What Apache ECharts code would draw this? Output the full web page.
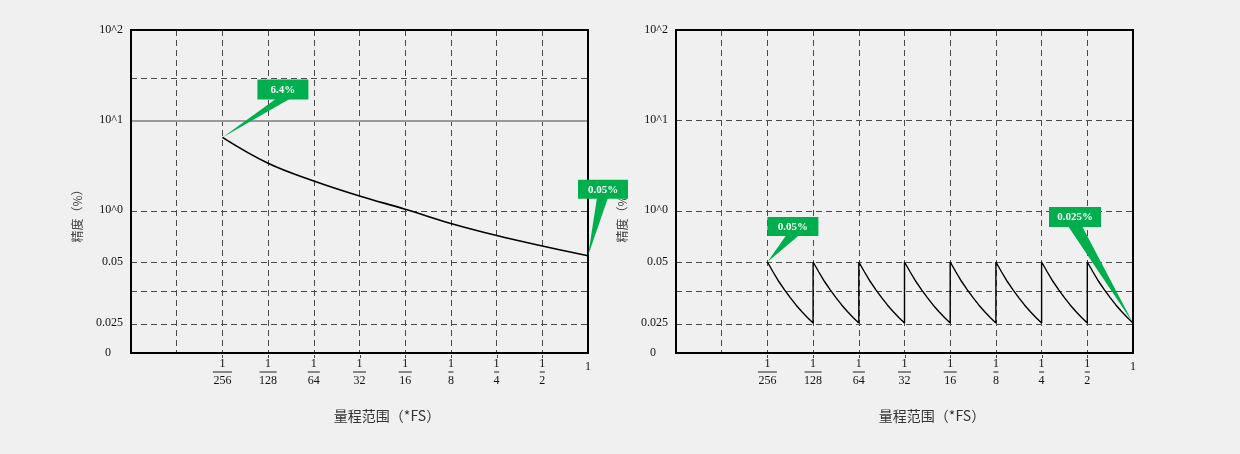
<!DOCTYPE html>
<html><head><meta charset="utf-8">
<script src="https://cdn.jsdelivr.net/npm/echarts@6/dist/echarts.min.js"></script>
<style>html,body{margin:0;padding:0;background:#f0f0f0}#c{width:1240px;height:454px}</style>
</head><body><div id="c"></div>
<script>
// ---------------- data ----------------
const RANGE_TICKS = [1/256, 1/128, 1/64, 1/32, 1/16, 1/8, 1/4, 1/2, 1];
const GRID_X = [1/1024, 1/512, 1/256, 1/128, 1/64, 1/32, 1/16, 1/8, 1/4, 1/2, 1];
const Y_TICK_VALUES = [0, 0.025, 0.05, 1, 10, 100];
const Y_TICK_LABELS = ['0', '0.025', '0.05', '10^0', '10^1', '10^2'];
// left chart: single-range instrument
const LEFT_RANGE = [1/256, 1/128, 1/64, 1/32, 1/16, 1/8, 1/4, 1/2, 1];
const LEFT_ACC = [6.4, 3.3, 2.1, 1.43, 1.02, 0.46, 0.23, 0.126, 0.072];
// right chart: auto-ranging, one saw-tooth per octave
const SEG_STARTS = [1/256, 1/128, 1/64, 1/32, 1/16, 1/8, 1/4, 1/2];
const SEG_FRAC = [0, 0.125, 0.25, 0.375, 0.5, 0.625, 0.75, 0.875, 1];
const SEG_ACC = [0.05, 0.0459, 0.042, 0.0386, 0.0354, 0.0324, 0.0297, 0.0273, 0.025];
// horizontal reference lines
const LEFT_HLINES = [0.025, 0.0375, 0.05, 1, 10, 28];
const RIGHT_HLINES = [0.025, 0.0375, 0.05, 1, 10];
const CALLOUT_TEXT = ['6.4%', '0.05%', '0.05%', '0.025%'];
const CALLOUT_X = [1/256, 1, 1/256, 1];
const CALLOUT_Y = [6.4, 0.072, 0.05, 0.025];
const CALLOUT_GRID = [0, 0, 1, 1];
const X_NAME = '量程范围（*FS）';
const Y_NAME = '精度（%）';

// ---------------- y scale (piecewise) ----------------
const BREAK_V = [0, 0.025, 0.05, 1, 10, 100];
const BREAK_P = [0, 30, 91, 143, 233, 323].map(p => p / 323);
const LOG_SEG = [false, false, true, true, true];
function yPos(v) {
  for (let i = 0; i < BREAK_V.length - 1; i++) {
    const a = BREAK_V[i], b = BREAK_V[i + 1];
    if (v <= b || i === BREAK_V.length - 2) {
      const t = LOG_SEG[i] ? Math.log(v / a) / Math.log(b / a) : (v - a) / (b - a);
      return BREAK_P[i] + t * (BREAK_P[i + 1] - BREAK_P[i]);
    }
  }
}

// ---------------- layout / style ----------------
const GRIDS = [{left: 131, top: 30, width: 457, height: 323}, {left: 676, top: 30, width: 457, height: 323}];
const GREEN = '#00ae4d';
const SERIF = '"Liberation Serif","Times New Roman",serif';
const CALLOUT_GEOM = [
  {box: [35, -58, 51, 20], base: [54, 68]},
  {box: [-10, -76, 50, 19], base: [9, 20]},
  {box: [0, -45, 51, 19], base: [19, 32]},
  {box: [-84, -116, 52, 20], base: [-65, -51]}
];
const HR_W = {256: 19, 128: 17, 64: 12, 32: 13, 16: 13, 8: 5, 4: 5, 2: 5};

const rich = {
  n: {fontFamily: SERIF, fontSize: 12, lineHeight: 13, color: '#111', align: 'center'},
  d: {fontFamily: SERIF, fontSize: 12, lineHeight: 13, color: '#111', align: 'center'},
  one: {fontFamily: SERIF, fontSize: 12, lineHeight: 13, color: '#111', padding: [7, 0, 0, 0]}
};
Object.keys(HR_W).forEach(k => {
  rich['hr' + k] = {width: HR_W[k], height: 0, lineHeight: 4, borderColor: '#222', borderWidth: 0.6, align: 'center'};
});

function xLabel(v) {
  const den = Math.round(1 / v);
  if (den > 256) return '';
  if (den === 1) return '{one|1}';
  return '{n|1}\n{hr' + den + '|}\n{d|' + den + '}';
}

const dash = {type: [6, 4], color: '#4a4a4a', width: 1};

function hLines(vals, solidAt) {
  return vals.map(v => ({
    yAxis: yPos(v),
    lineStyle: v === solidAt ? {type: 'solid', color: '#9a9a9a', width: 2} : dash
  }));
}

const leftData = LEFT_RANGE.map((r, i) => [r, yPos(LEFT_ACC[i])]);
const rightData = [];
SEG_STARTS.forEach(s => {
  SEG_FRAC.forEach((f, i) => rightData.push([s * Math.pow(2, f), yPos(SEG_ACC[i])]));
});

const xAxes = GRIDS.map((g, i) => ({
  type: 'log', logBase: 2, gridIndex: i, min: 1/1024, max: 1,
  axisLine: {show: false},
  splitLine: {show: true, showMinLine: false, showMaxLine: false, lineStyle: dash},
  axisTick: {show: false, customValues: GRID_X},
  axisLabel: {customValues: RANGE_TICKS, formatter: xLabel, rich: rich, margin: 4, showMinLabel: true, showMaxLabel: true, hideOverlap: false}
}));
const yAxes = GRIDS.map((g, i) => ({
  type: 'value', gridIndex: i, min: 0, max: 1,
  axisLine: {show: false}, axisTick: {show: false}, splitLine: {show: false},
  axisLabel: {
    customValues: Y_TICK_VALUES.map(yPos), margin: 8, fontFamily: SERIF, fontSize: 12, color: '#111',
    formatter: function (val) {
      for (let k = 0; k < Y_TICK_VALUES.length; k++) {
        if (Math.abs(yPos(Y_TICK_VALUES[k]) - val) < 1e-6) {
          return Y_TICK_LABELS[k] === '0' ? '{z|0}' : Y_TICK_LABELS[k];
        }
      }
      return '';
    },
    rich: {z: {fontFamily: SERIF, fontSize: 12, color: '#111', padding: [0, 12, 0, 0]}}
  }
}));

const chart = echarts.init(document.getElementById('c'), null, {renderer: 'canvas'});
chart.setOption({
  animation: false,
  backgroundColor: '#f0f0f0',
  grid: GRIDS.map(g => Object.assign({show: true, borderColor: '#000', borderWidth: 2, backgroundColor: 'transparent', z: 5}, g)),
  xAxis: xAxes,
  yAxis: yAxes,
  series: [
    {
      type: 'line', xAxisIndex: 0, yAxisIndex: 0, data: leftData, smooth: 0.4, showSymbol: false,
      lineStyle: {color: '#000', width: 1.6}, z: 3,
      markLine: {silent: true, symbol: ['none', 'none'], label: {show: false}, z: 1,
        data: hLines(LEFT_HLINES, 10)}
    },
    {
      type: 'line', xAxisIndex: 1, yAxisIndex: 1, data: rightData, showSymbol: false,
      lineStyle: {color: '#000', width: 1.4}, z: 3,
      markLine: {silent: true, symbol: ['none', 'none'], label: {show: false}, z: 1,
        data: hLines(RIGHT_HLINES, null)}
    }
  ]
});

// names + callouts + small ticks below the axis
const graphics = [];
GRIDS.forEach((g, gi) => {
  graphics.push({type: 'text', x: g.left + 256, y: 416, z: 10,
    style: {text: X_NAME, font: '14px "Noto Sans CJK SC",sans-serif', fill: '#333', align: 'center', verticalAlign: 'middle', textAlign: 'center', textVerticalAlign: 'middle'}});
  graphics.push({type: 'text', x: g.left - 54, y: 213, rotation: Math.PI / 2, z: 10,
    style: {text: Y_NAME, font: '12px "Noto Sans CJK SC",sans-serif', fill: '#444', align: 'center', verticalAlign: 'middle', textAlign: 'center', textVerticalAlign: 'middle'}});
  RANGE_TICKS.slice(0, -1).forEach(r => {
    const px = Math.round(chart.convertToPixel({xAxisIndex: gi}, r)) + 0.5;
    graphics.push({type: 'line', z: 10, shape: {x1: px, y1: g.top + g.height + 2, x2: px, y2: g.top + g.height + 5}, style: {stroke: '#444', lineWidth: 1}});
  });
});
CALLOUT_TEXT.forEach((t, i) => {
  const p = chart.convertToPixel({seriesIndex: CALLOUT_GRID[i]}, [CALLOUT_X[i], yPos(CALLOUT_Y[i])]);
  const gm = CALLOUT_GEOM[i];
  const bx = p[0] + gm.box[0], by = p[1] + gm.box[1], bw = gm.box[2], bh = gm.box[3];
  graphics.push({type: 'polygon', z: 20, shape: {points: [[p[0], p[1]], [p[0] + gm.base[0], by + bh - 1], [p[0] + gm.base[1], by + bh - 1]]}, style: {fill: GREEN}});
  graphics.push({type: 'rect', z: 20, shape: {x: bx, y: by, width: bw, height: bh}, style: {fill: GREEN}});
  graphics.push({type: 'text', z: 21, x: bx + bw / 2, y: by + bh / 2 + 0.5,
    style: {text: t, font: 'bold 11px ' + SERIF, fill: '#fff', align: 'center', verticalAlign: 'middle', textAlign: 'center', textVerticalAlign: 'middle'}});
});
chart.setOption({graphic: graphics});
</script>
</body></html>
